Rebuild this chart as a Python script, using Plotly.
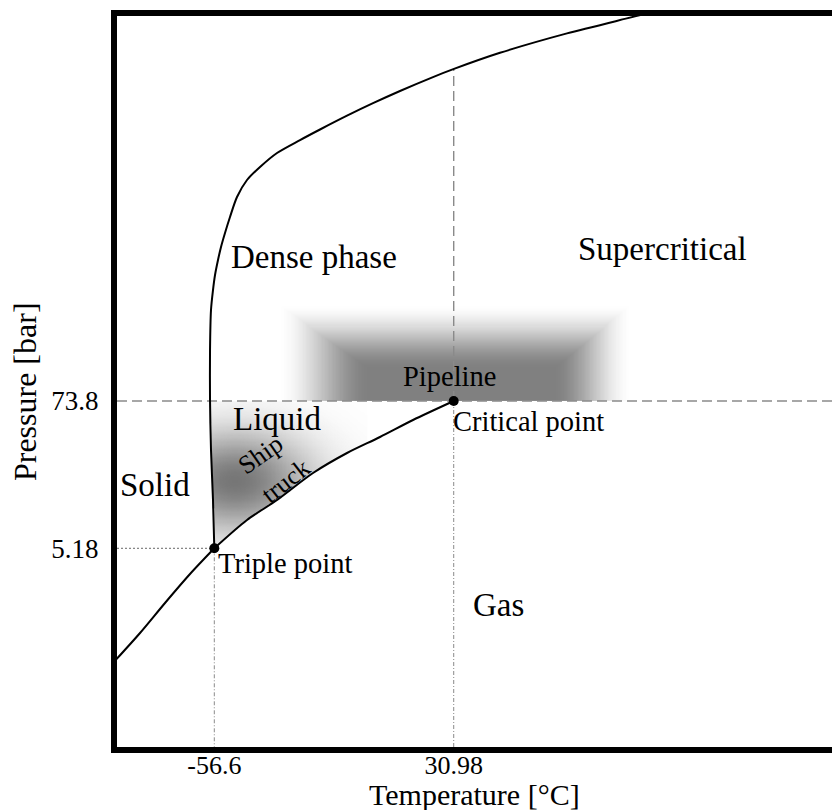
import numpy as np
import plotly.graph_objects as go

# ---------------- data ----------------
tick_T = [-56.6, 30.98]
tick_T_text = ["-56.6", "30.98"]
tick_P = [5.18, 73.8]
tick_P_text = ["5.18", "73.8"]

triple_T, triple_P = -56.6, 5.18
critical_T, critical_P = 30.98, 73.8

# solid / liquid (melting) curve, continuing as the dense-phase boundary
melt_T = [-56.6, -57.08, -57.81, -58.17, -58.17, -57.81, -57.08, -56.34, -55.25,
          -54.15, -52.69, -50.86, -48.30, -44.64, -39.88, -33.66, -25.25, -17.93,
          -8.05, 1.46, 11.33, 23.40, 31.08, 47.91, 72.42, 97.30, 106.45]
melt_P = [5.18, 12.4, 30.5, 75.1, 185, 381, 546, 716, 939,
          1187, 1528, 2039, 2924, 3973, 5022, 6466, 8158, 9876,
          12670, 15870, 19780, 25420, 29460, 39390, 55900, 75950, 85230]

# sublimation curve
sub_T = [-93.66, -83.78, -74.64, -65.49, -56.6]
sub_P = [0.655, 1.124, 1.932, 3.258, 5.18]

# vaporization curve
vap_T = [-56.6, -44.64, -33.66, -20.49, -8.05, 4.02, 16.09, 30.98]
vap_P = [5.18, 8.63, 12.38, 20.15, 28.89, 38.56, 52.40, 73.8]

# ---------------- figure ----------------
SERIF = "Liberation Serif"
X_RANGE = [-92.2, 172.3]
Y_RANGE = [-0.8421, 4.8837]   # log10 of pressure

fig = go.Figure()

def smooth(s):
    s = np.clip(s, 0, 1)
    return s * s * (3 - 2 * s)

# --- "Pipeline" shading (rectangular soft box) ---
pl_TL, pl_TR = -33.66, 96.57        # outer left / right
pl_TiL, pl_TiR = 0.4, 67.3          # full-strength left / right
pl_top, pl_itop = 2.6357, 2.1109    # log10 P outer top / full-strength top
pT = np.arange(pl_TL, pl_TR + 0.25, 0.5)
pL = np.arange(np.log10(critical_P) + 0.004, pl_top + 0.005, 0.008)
TT, LL = np.meshgrid(pT, pL)
zp = np.minimum.reduce([(TT - pl_TL) / (pl_TiL - pl_TL),
                        (pl_TR - TT) / (pl_TR - pl_TiR),
                        (pl_top - LL) / (pl_top - pl_itop)])
zp = smooth(zp)
fig.add_trace(go.Heatmap(
    x=pT, y=10 ** pL, z=zp, zmin=0, zmax=1, showscale=False, hoverinfo="skip",
    colorscale=[[0, "rgba(128,128,128,0)"], [1, "rgba(128,128,128,1)"]]))

# --- "Ship / truck" shading inside the liquid region ---
sT = np.arange(-60, -0.9, 0.5)
sL = np.arange(0.70, np.log10(critical_P), 0.009)
ST, SL = np.meshgrid(sT, sL)
mT = np.interp(SL, np.log10(melt_P[:6]), melt_T[:6])
vL = np.interp(ST, vap_T, np.log10(vap_P))
inside = (ST >= mT) & (SL >= vL) & (ST <= -1.0)
cT, cL = -49.0, 1.24
zs = np.exp(-0.5 * (((ST - cT) / 20.0) ** 2 + ((SL - cL) / 0.28) ** 2))
zs = np.where(inside, zs, np.nan)
fig.add_trace(go.Heatmap(
    x=sT, y=10 ** sL, z=zs, zmin=0, zmax=1, showscale=False, hoverinfo="skip",
    colorscale=[[0, "rgba(118,118,118,0)"], [1, "rgba(118,118,118,1)"]]))

GRAY = "#8a8a8a"
# reference lines
fig.add_trace(go.Scatter(x=[X_RANGE[0], X_RANGE[1]], y=[critical_P, critical_P], mode="lines",
                         line=dict(color=GRAY, width=1.4, dash="10px,5px"), hoverinfo="skip"))
P_up = 10 ** np.interp(critical_T, melt_T[10:], np.log10(melt_P[10:]))
fig.add_trace(go.Scatter(x=[critical_T, critical_T], y=[critical_P, P_up], mode="lines",
                         line=dict(color=GRAY, width=1.4, dash="10px,5px"), hoverinfo="skip"))
fig.add_trace(go.Scatter(x=[critical_T, critical_T], y=[critical_P, 10 ** Y_RANGE[0]], mode="lines",
                         line=dict(color=GRAY, width=1, dash="4px,2px,1px,2px"), hoverinfo="skip"))
fig.add_trace(go.Scatter(x=[triple_T, triple_T], y=[triple_P, 10 ** Y_RANGE[0]], mode="lines",
                         line=dict(color=GRAY, width=1, dash="4px,2px,1px,2px"), hoverinfo="skip"))
fig.add_trace(go.Scatter(x=[X_RANGE[0], triple_T], y=[triple_P, triple_P], mode="lines",
                         line=dict(color="#666666", width=1, dash="2px,2px"), hoverinfo="skip"))

# phase boundaries
for xs, ys in [(melt_T, melt_P), (sub_T, sub_P), (vap_T, vap_P)]:
    fig.add_trace(go.Scatter(x=xs, y=ys, mode="lines",
                             line=dict(color="black", width=2, shape="spline", smoothing=0.8),
                             hoverinfo="skip"))

# triple & critical points
fig.add_trace(go.Scatter(x=[triple_T, critical_T], y=[triple_P, critical_P], mode="markers",
                         marker=dict(color="black", size=10), hoverinfo="skip"))

def lab(text, T, P, size, xanchor="center", angle=0):
    fig.add_annotation(x=T, y=np.log10(P), xref="x", yref="y", text=text, showarrow=False,
                       xanchor=xanchor, yanchor="middle", textangle=angle,
                       font=dict(family=SERIF, size=size, color="black"))

BIG, SMALL = 33, 28.5
lab("Dense phase", -20.1, 991, BIG)
lab("Supercritical", 107.2, 1145, BIG)
lab("Liquid", -33.7, 53.3, BIG)
lab("Solid", -78.3, 16.2, BIG)
lab("Gas", 47.2, 1.86, BIG)
lab("Pipeline", 29.6, 115.8, SMALL)
lab("Critical point", 29.9, 51.4, SMALL, xanchor="left")
lab("Triple point", -56.0, 3.97, SMALL, xanchor="left")
lab("Ship", -39.6, 27.9, 26, angle=-35)
lab("truck", -30.7, 17.4, 26, angle=-38)

# axis titles
fig.add_annotation(x=0.495, y=-0.0648, xref="paper", yref="paper", text="Temperature [°C]",
                   showarrow=False, xanchor="center", yanchor="middle",
                   font=dict(family=SERIF, size=30, color="black"))
fig.add_annotation(x=-0.1272, y=0.4856, xref="paper", yref="paper", text="Pressure [bar]",
                   showarrow=False, xanchor="center", yanchor="middle", textangle=-90,
                   font=dict(family=SERIF, size=32, color="black"))

# the page body has an 8 px margin, so the figure is 8 px smaller than the window
fig.update_layout(
    width=832, height=802, showlegend=False,
    margin=dict(l=109, r=0, t=8, b=63),
    paper_bgcolor="white", plot_bgcolor="white",
    xaxis=dict(range=X_RANGE, showgrid=False, zeroline=False, showline=True, linewidth=6,
               linecolor="black", mirror=True, ticks="", tickvals=tick_T, ticktext=tick_T_text,
               ticklabelstandoff=-10,
               tickfont=dict(family=SERIF, size=26, color="black")),
    yaxis=dict(type="log", range=Y_RANGE, showgrid=False, zeroline=False, showline=True,
               linewidth=6, linecolor="black", mirror=False, ticks="", tickvals=tick_P,
               ticktext=tick_P_text, ticklabelstandoff=7,
               tickfont=dict(family=SERIF, size=27, color="black")),
)

fig.write_html("out.html")
